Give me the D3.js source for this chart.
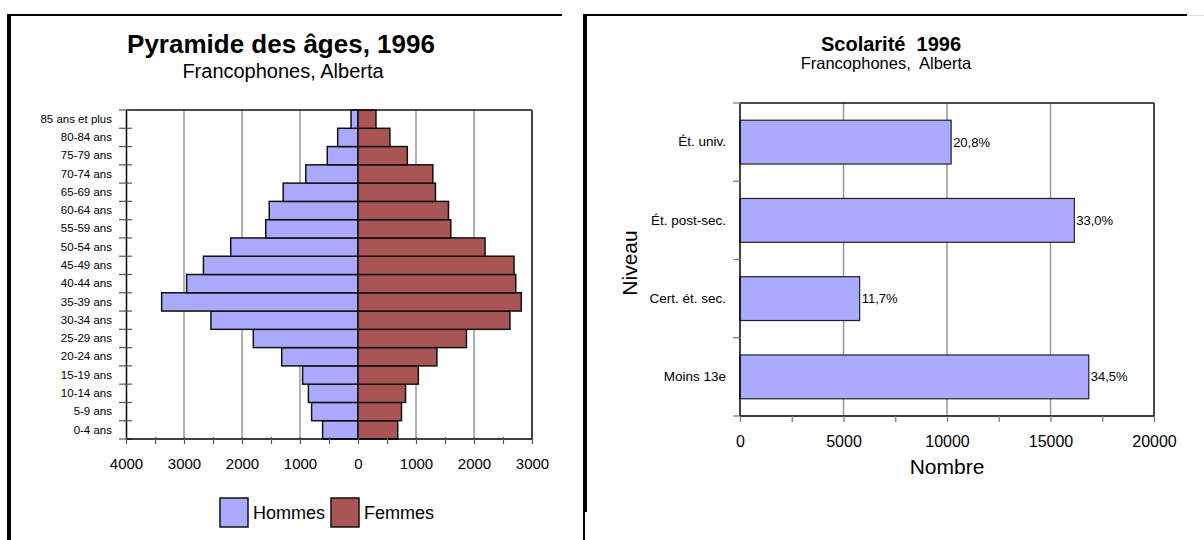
<!DOCTYPE html>
<html><head><meta charset="utf-8">
<script src="https://cdn.jsdelivr.net/npm/d3@7"></script>
<style>
html,body{margin:0;padding:0;background:#fff;}
svg{display:block;font-family:"Liberation Sans",Arial,sans-serif;}
</style></head>
<body><svg id="c" width="1204" height="540"></svg>
<script>
// ---- Data: Pyramide des âges ----
const ageGroups = ["0-4 ans","5-9 ans","10-14 ans","15-19 ans","20-24 ans","25-29 ans","30-34 ans","35-39 ans","40-44 ans","45-49 ans","50-54 ans","55-59 ans","60-64 ans","65-69 ans","70-74 ans","75-79 ans","80-84 ans","85 ans et plus"];
const hommes = [610,800,855,955,1315,1805,2535,3385,2955,2665,2195,1590,1530,1290,900,530,350,120];
const femmes = [685,750,820,1040,1360,1870,2620,2815,2720,2690,2190,1600,1560,1335,1290,850,550,310];
const pyramidTicks = [-4000,-3000,-2000,-1000,0,1000,2000,3000];
const legendLabels = ["Hommes","Femmes"];

// ---- Data: Scolarité ----
const niveaux = ["Ét. univ.","Ét. post-sec.","Cert. ét. sec.","Moins 13e"];
const nombres = [10200,16150,5780,16850];
const pourcents = ["20,8%","33,0%","11,7%","34,5%"];
const nombreTicks = [0,5000,10000,15000,20000];

const svg = d3.select("#c");
const colH = "#aaaaff", colF = "#aa5555";

// ---- Panel borders ----
svg.append("rect").attr("x",7).attr("y",14).attr("width",555).attr("height",2).attr("fill","#000");
svg.append("rect").attr("x",7).attr("y",14).attr("width",4).attr("height",526).attr("fill","#000");
svg.append("rect").attr("x",583).attr("y",14).attr("width",4).attr("height",498).attr("fill","#000");
svg.append("rect").attr("x",583).attr("y",512).attr("width",2).attr("height",28).attr("fill","#000");
svg.append("rect").attr("x",583).attr("y",14).attr("width",604).attr("height",2).attr("fill","#000");
svg.append("rect").attr("x",1187).attr("y",15).attr("width",17).attr("height",1).attr("fill","#ddd");

// ================= LEFT: pyramid =================
const L = {l:126, r:532, t:110, b:439};
const xL = d3.scaleLinear().domain([-4000,3000]).range([L.l,L.r]);
const yL = d3.scaleBand().domain(ageGroups).range([L.b,L.t]).padding(0);
const gL = svg.append("g");

gL.append("text").attr("x",281).attr("y",53).attr("text-anchor","middle")
  .attr("font-size",26).attr("font-weight","bold").text("Pyramide des âges, 1996");
gL.append("text").attr("x",283).attr("y",78).attr("text-anchor","middle")
  .attr("font-size",20).text("Francophones, Alberta");

// gridlines
gL.selectAll("line.grid").data(pyramidTicks.filter(d=>d>-4000 && d<3000)).join("line")
  .attr("x1",d=>xL(d)).attr("x2",d=>xL(d)).attr("y1",L.t).attr("y2",L.b)
  .attr("stroke","#999").attr("stroke-width",1.5);

// bars
const rows = ageGroups.map((a,i)=>({a, h:hommes[i], f:femmes[i]}));
gL.selectAll("rect.h").data(rows).join("rect")
  .attr("x",d=>xL(-d.h)).attr("width",d=>xL(0)-xL(-d.h))
  .attr("y",d=>yL(d.a)).attr("height",yL.bandwidth())
  .attr("fill",colH).attr("stroke","#111").attr("stroke-width",1.5);
gL.selectAll("rect.f").data(rows).join("rect")
  .attr("x",xL(0)).attr("width",d=>xL(d.f)-xL(0))
  .attr("y",d=>yL(d.a)).attr("height",yL.bandwidth())
  .attr("fill",colF).attr("stroke","#111").attr("stroke-width",1.5);

// frame top & right
gL.append("line").attr("x1",L.l).attr("x2",L.r).attr("y1",L.t).attr("y2",L.t).attr("stroke","#111").attr("stroke-width",1.5);
gL.append("line").attr("x1",L.r).attr("x2",L.r).attr("y1",L.t).attr("y2",L.b).attr("stroke","#444").attr("stroke-width",2);

// left axis
const yAxisL = d3.axisLeft(yL).tickSize(0).tickPadding(14);
const gyL = gL.append("g").attr("transform",`translate(${L.l},0)`).call(yAxisL);
gyL.select(".domain").attr("stroke","#000").attr("stroke-width",1.5);
gyL.selectAll("text").attr("font-size",11.5).attr("font-family","Liberation Sans, Arial").attr("fill","#000");
const bounds = d3.range(ageGroups.length+1).map(i=>L.b - i*yL.step());
gL.selectAll("line.yt").data(bounds).join("line")
  .attr("x1",L.l-7).attr("x2",L.l+6).attr("y1",d=>d).attr("y2",d=>d)
  .attr("stroke","#555").attr("stroke-width",1.2);

// bottom axis
const xAxisL = d3.axisBottom(xL).tickValues(d3.range(-4000,3001,500)).tickSize(5)
  .tickFormat(d=> d%1000===0 ? String(Math.abs(d)) : "");
const gxL = gL.append("g").attr("transform",`translate(0,${L.b})`).call(xAxisL);
gxL.select(".domain").attr("stroke","#000").attr("stroke-width",1.5).attr("d",`M${L.l},0H${L.r}`);
gxL.selectAll(".tick line").attr("stroke","#555").attr("stroke-width",1.2).attr("y1",-2);
gxL.selectAll("text").attr("font-size",15).attr("font-family","Liberation Sans, Arial").attr("fill","#000").attr("dy","1.45em");

// legend
const legX = [220,331];
legendLabels.forEach((lab,i)=>{
  gL.append("rect").attr("x",legX[i]).attr("y",498).attr("width",28).attr("height",29)
    .attr("fill",i===0?colH:colF).attr("stroke","#111").attr("stroke-width",1.5);
  gL.append("text").attr("x",legX[i]+33).attr("y",519).attr("font-size",18).text(lab);
});

// ================= RIGHT: Scolarité =================
const R = {l:740, r:1154, t:103, b:416};
const xR = d3.scaleLinear().domain([0,20000]).range([R.l,R.r]);
const yR = d3.scaleBand().domain(niveaux).range([R.t,R.b]).paddingInner(0.44).paddingOuter(0.22);
const gR = svg.append("g");

gR.append("text").attr("x",891).attr("y",51).attr("text-anchor","middle")
  .attr("font-size",20).attr("font-weight","bold").attr("xml:space","preserve").text("Scolarité  1996");
gR.append("text").attr("x",886).attr("y",69).attr("text-anchor","middle")
  .attr("font-size",16.5).attr("xml:space","preserve").text("Francophones,  Alberta");

// gridlines
gR.selectAll("line.grid").data(nombreTicks.filter(d=>d>0 && d<20000)).join("line")
  .attr("x1",d=>xR(d)).attr("x2",d=>xR(d)).attr("y1",R.t).attr("y2",R.b)
  .attr("stroke","#999").attr("stroke-width",1.5);
// frame
gR.append("line").attr("x1",R.l).attr("x2",R.r).attr("y1",R.t).attr("y2",R.t).attr("stroke","#111").attr("stroke-width",1.5);
gR.append("line").attr("x1",R.r).attr("x2",R.r).attr("y1",R.t).attr("y2",R.b).attr("stroke","#111").attr("stroke-width",1.5);

// bars
const rrows = niveaux.map((n,i)=>({n, v:nombres[i], p:pourcents[i]}));
gR.selectAll("rect.b").data(rrows).join("rect")
  .attr("x",R.l).attr("width",d=>xR(d.v)-R.l)
  .attr("y",d=>yR(d.n)).attr("height",yR.bandwidth())
  .attr("fill",colH).attr("stroke","#222").attr("stroke-width",1.2);
gR.selectAll("text.p").data(rrows).join("text")
  .attr("x",d=>xR(d.v)+2).attr("y",d=>yR(d.n)+yR.bandwidth()/2+4.5)
  .attr("font-size",13).attr("font-family","Liberation Sans Narrow, Liberation Sans, Arial").text(d=>d.p);

// left axis
const gyR = gR.append("g").attr("transform",`translate(${R.l},0)`)
  .call(d3.axisLeft(yR).tickSize(0).tickPadding(14));
gyR.select(".domain").attr("stroke","#000").attr("stroke-width",1.5).attr("d",`M0,${R.t}V${R.b}`);
gyR.selectAll("text").attr("font-size",13.5).attr("font-family","Liberation Sans Narrow, Liberation Sans, Arial").attr("fill","#000");
const rb = d3.range(niveaux.length+1).map(i=>R.t + i*yR.step());
gR.selectAll("line.yt").data(rb).join("line")
  .attr("x1",R.l-7).attr("x2",R.l+1).attr("y1",d=>d).attr("y2",d=>d)
  .attr("stroke","#777").attr("stroke-width",1.2);

// bottom axis
const gxR = gR.append("g").attr("transform",`translate(0,${R.b})`)
  .call(d3.axisBottom(xR).tickValues(d3.range(0,20001,2500)).tickSize(6)
    .tickFormat(d=> d%5000===0 ? String(d) : ""));
gxR.select(".domain").attr("stroke","#000").attr("stroke-width",1.5).attr("d",`M${R.l},0H${R.r}`);
gxR.selectAll(".tick line").attr("stroke","#777").attr("stroke-width",1.2);
gxR.selectAll("text").attr("font-size",16).attr("font-family","Liberation Sans, Arial").attr("fill","#000").attr("dy","1.35em");

gR.append("text").attr("x",947).attr("y",474).attr("text-anchor","middle").attr("font-size",21).text("Nombre");
gR.append("text").attr("transform","translate(637,263) rotate(-90)").attr("text-anchor","middle").attr("font-size",21).text("Niveau");
</script></body></html>
